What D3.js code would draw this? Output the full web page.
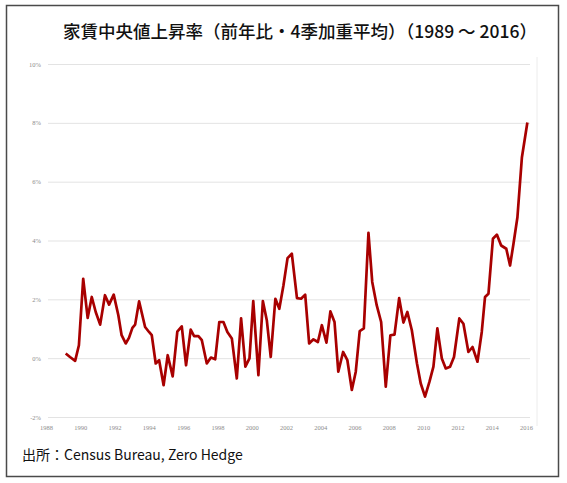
<!DOCTYPE html>
<html>

<head>
    <meta charset="utf-8">
    <title>rent growth</title>
    <style type="text/css">
        body { margin: 0; background: #fff; }
        .grid line { stroke: #e3e3e3; stroke-width: 1px; }
        .grid .domain { display: none; }
        .tick text { fill: #8c8c8c; font-family: "Liberation Serif", serif; font-size: 6.5px; }
        .rent { fill: none; stroke: #a80000; stroke-width: 2.7px; stroke-linejoin: round; }
    </style>
</head>

<body>
    <svg class="chart" width="567" height="483"></svg>
    <script src="https://cdn.jsdelivr.net/npm/d3@7"></script>
    <script type="text/javascript">
    // quarter positions (decimal year)
    var dates = [1989.15, 1989.40, 1989.70, 1989.92, 1990.17, 1990.43, 1990.67, 1990.90, 1991.16, 1991.44,
        1991.68, 1991.95, 1992.22, 1992.41, 1992.65, 1992.84, 1993.04, 1993.20, 1993.43, 1993.78,
        1994.01, 1994.17, 1994.40, 1994.60, 1994.86, 1995.10, 1995.39, 1995.66, 1995.92, 1996.17,
        1996.44, 1996.64, 1996.89, 1997.09, 1997.38, 1997.62, 1997.87, 1998.11, 1998.35, 1998.58,
        1998.84, 1999.13, 1999.38, 1999.63, 1999.87, 2000.09, 2000.39, 2000.65, 2000.88, 2001.11,
        2001.38, 2001.61, 2001.85, 2002.09, 2002.34, 2002.64, 2002.88, 2003.12, 2003.35, 2003.60,
        2003.86, 2004.09, 2004.36, 2004.59, 2004.83, 2005.05, 2005.33, 2005.58, 2005.84, 2006.07,
        2006.30, 2006.54, 2006.81, 2007.03, 2007.29, 2007.55, 2007.82, 2008.09, 2008.33, 2008.60,
        2008.85, 2009.08, 2009.34, 2009.64, 2009.86, 2010.11, 2010.37, 2010.60, 2010.83, 2011.09,
        2011.32, 2011.57, 2011.80, 2012.11, 2012.35, 2012.64, 2012.88, 2013.17, 2013.42, 2013.61,
        2013.81, 2014.07, 2014.30, 2014.55, 2014.85, 2015.07, 2015.27, 2015.50, 2015.76, 2016.08];

    // median rent growth, % y/y
    var rates = [0.16, 0.04, -0.09, 0.44, 2.70, 1.37, 2.08, 1.57, 1.14, 2.14,
        1.82, 2.16, 1.46, 0.78, 0.50, 0.69, 1.03, 1.14, 1.93, 1.06,
        0.89, 0.78, -0.18, -0.07, -0.92, 0.10, -0.62, 0.90, 1.08, -0.24,
        0.97, 0.75, 0.75, 0.61, -0.18, 0.02, -0.04, 1.23, 1.23, 0.89,
        0.67, -0.69, 1.35, -0.29, -0.01, 1.94, -0.58, 1.94, 1.29, 0.04,
        2.02, 1.68, 2.47, 3.40, 3.55, 2.04, 2.02, 2.16, 0.50, 0.64,
        0.55, 1.12, 0.53, 1.59, 1.23, -0.46, 0.21, -0.07, -1.08, -0.46,
        0.92, 1.01, 4.26, 2.59, 1.80, 1.23, -0.97, 0.78, 0.80, 2.04,
        1.21, 1.57, 0.95, -0.18, -0.86, -1.31, -0.80, -0.29, 1.01, -0.01,
        -0.35, -0.29, 0.04, 1.35, 1.17, 0.21, 0.38, -0.12, 0.89, 2.08,
        2.19, 4.06, 4.20, 3.83, 3.72, 3.15, 3.89, 4.79, 6.82, 8.01];

    var yearTicks = [1988, 1990, 1992, 1994, 1996, 1998, 2000, 2002, 2004, 2006, 2008, 2010, 2012, 2014, 2016];
    var pctTicks = [-2, 0, 2, 4, 6, 8, 10];

    var titleText = '家賃中央値上昇率（前年比・4季加重平均）（1989 ～ 2016）';
    var sourceText = '出所：Census Bureau, Zero Hedge';

    var svg = d3.select('.chart');

    // frame
    svg.append('rect')
        .attr('x', 6.5).attr('y', 5.5)
        .attr('width', 552).attr('height', 471)
        .attr('fill', '#fff')
        .attr('stroke', '#4a4a4a')
        .attr('stroke-width', 1.5);

    var x = d3.scaleLinear().domain([1988, 2016]).range([46, 526]);
    var y = d3.scaleLinear().domain([-2, 10]).range([417, 64]);

    // faint right edge of the plot
    svg.append('line')
        .attr('x1', 537).attr('x2', 537)
        .attr('y1', 57).attr('y2', 426)
        .attr('stroke', '#ececec');

    svg.append('g')
        .attr('class', 'grid')
        .attr('transform', 'translate(48,0)')
        .call(d3.axisLeft(y)
            .tickValues(pctTicks)
            .tickSize(-482)
            .tickPadding(7)
            .tickFormat(function(d) { return d + '%'; }));

    svg.append('g')
        .attr('class', 'grid')
        .attr('transform', 'translate(0,423)')
        .call(d3.axisBottom(x)
            .tickValues(yearTicks)
            .tickSize(0)
            .tickPadding(2)
            .tickFormat(d3.format('d')));

    var line = d3.line()
        .x(function(d, i) { return x(dates[i]); })
        .y(function(d) { return y(d); });

    svg.append('path')
        .attr('class', 'rent')
        .attr('d', line(rates));

    svg.append('text')
        .attr('x', 63)
        .attr('y', 38)
        .attr('font-family', '"Noto Sans CJK JP", sans-serif')
        .attr('font-size', 17.5)
        .attr('font-weight', 500)
        .attr('fill', '#111')
        .text(titleText);

    svg.append('text')
        .attr('x', 22)
        .attr('y', 460)
        .attr('font-family', '"Noto Sans CJK JP", sans-serif')
        .attr('font-size', 14)
        .attr('fill', '#111')
        .text(sourceText);
    </script>
</body>

</html>
